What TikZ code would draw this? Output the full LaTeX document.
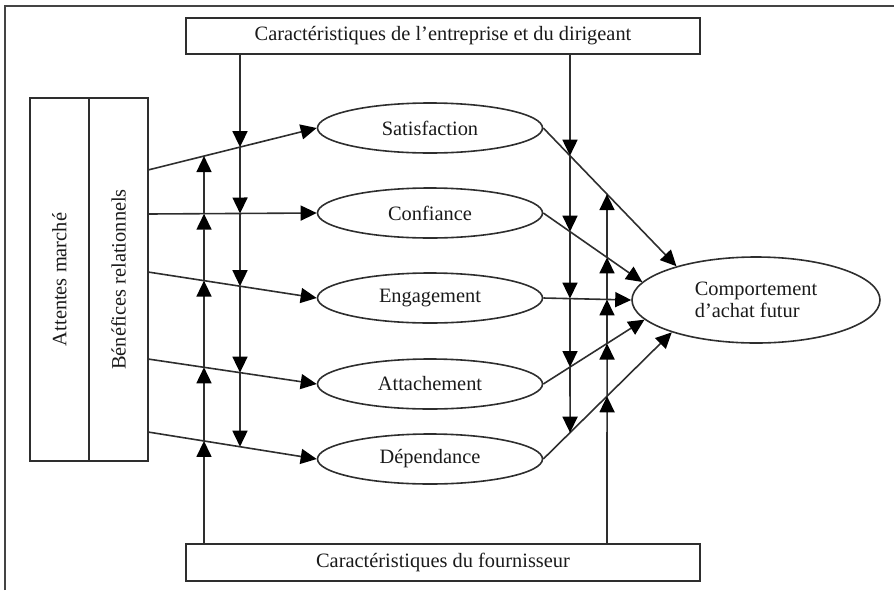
\documentclass[tikz,border=0pt]{standalone}
\usepackage{fontspec}
\setmainfont{Liberation Serif}
\usepackage{xcolor}
\definecolor{cLine}{HTML}{2E2E2E}
\definecolor{cText}{HTML}{1A1A1A}
\definecolor{cFrame}{HTML}{444444}
\usetikzlibrary{positioning,arrows.meta,shapes.geometric,calc}
\tikzset{
  node-box/.style={draw=cLine,line width=0.8pt,rectangle,inner sep=0pt,
    align=center,text=cText},
  node-ellipse/.style={draw=cLine,line width=0.8pt,ellipse,inner sep=0pt,
    minimum width=112.5pt,minimum height=25pt,align=center,text=cText},
  arrow/.style={-{Triangle[length=8pt,width=7.5pt,black]},line width=0.8pt,draw=cLine},
}

\begin{document}
\begin{tikzpicture}[x=0.5pt,y=-0.5pt,font=\fontsize{10.2}{11}\selectfont]
  \useasboundingbox (0,0) rectangle (894,590);
  % cadre
  \draw[cFrame,line width=0.6pt] (5,590) -- (5,6) -- (894,6);

  % boites
  \node[node-box,minimum width=257pt,minimum height=18pt]   (haut) at (443,36)
    {Caractéristiques de l’entreprise et du dirigeant};
  \node[node-box,minimum width=257pt,minimum height=18.5pt] (bas) at (443,562.5)
    {Caractéristiques du fournisseur};
  \node[node-box,rotate=90,minimum width=181.5pt,minimum height=29.5pt] (attentes)  at (59.5,279.5) {Attentes marché};
  \node[node-box,rotate=90,minimum width=181.5pt,minimum height=29.5pt] (benefices) at (118.5,279.5) {Bénéfices relationnels};

  % variables relationnelles
  \node[node-ellipse] (sat)  at (430,128) {Satisfaction};
  \node[node-ellipse] (conf) at (430,213) {Confiance};
  \node[node-ellipse] (eng)  at (430,298) {Engagement};
  \node[node-ellipse] (att)  at (430,384) {Attachement};
  \node[node-ellipse] (dep)  at (430,459) {Dépendance};
  \node[node-ellipse,minimum width=124pt,minimum height=43pt,align=left] (comp) at (756,300)
    {Comportement\\d’achat futur};

  % departs des fleches
  \coordinate (in1) at (148,170);
  \coordinate (in2) at (148,214);
  \coordinate (in3) at (148,272);
  \coordinate (in4) at (148,359);
  \coordinate (in5) at (148,432);

  \draw[arrow] (in1) -- (sat.west);
  \draw[arrow] (in2) -- (conf.west);
  \draw[arrow] (in3) -- (eng.west);
  \draw[arrow] (in4) -- (att.west);
  \draw[arrow] (in5) -- (dep.west);

  \draw[arrow] (sat.east)  -- (comp.157);
  \draw[arrow] (conf.east) -- (comp.171);
  \draw[arrow] (eng.east)  -- (comp.west);
  \draw[arrow] (att.east)  -- (comp.190);
  \draw[arrow] (dep.east)  -- (comp.201);

  % moderateurs
  \coordinate (vAa) at (240,0);   \coordinate (vAb) at (240,600);
  \coordinate (vBa) at (204,0);   \coordinate (vBb) at (204,600);
  \coordinate (vCa) at (570,0);   \coordinate (vCb) at (570,600);
  \coordinate (vDa) at (607,0);   \coordinate (vDb) at (607,600);

  \coordinate (a1) at (intersection of in1--sat.west and vAa--vAb);
  \coordinate (a2) at (intersection of in2--conf.west and vAa--vAb);
  \coordinate (a3) at (intersection of in3--eng.west and vAa--vAb);
  \coordinate (a4) at (intersection of in4--att.west and vAa--vAb);
  \coordinate (a5) at (intersection of in5--dep.west and vAa--vAb);
  \coordinate (b1) at (intersection of in1--sat.west and vBa--vBb);
  \coordinate (b2) at (intersection of in2--conf.west and vBa--vBb);
  \coordinate (b3) at (intersection of in3--eng.west and vBa--vBb);
  \coordinate (b4) at (intersection of in4--att.west and vBa--vBb);
  \coordinate (b5) at (intersection of in5--dep.west and vBa--vBb);
  \coordinate (c1) at (intersection of sat.east--comp.157 and vCa--vCb);
  \coordinate (c2) at (intersection of conf.east--comp.171 and vCa--vCb);
  \coordinate (c3) at (intersection of eng.east--comp.west and vCa--vCb);
  \coordinate (c4) at (intersection of att.east--comp.190 and vCa--vCb);
  \coordinate (c5) at (intersection of dep.east--comp.201 and vCa--vCb);
  \coordinate (d1) at (intersection of sat.east--comp.157 and vDa--vDb);
  \coordinate (d2) at (intersection of conf.east--comp.171 and vDa--vDb);
  \coordinate (d3) at (intersection of eng.east--comp.west and vDa--vDb);
  \coordinate (d4) at (intersection of att.east--comp.190 and vDa--vDb);
  \coordinate (d5) at (intersection of dep.east--comp.201 and vDa--vDb);

  \path (haut.south -| vAa) edge[arrow] (a1)
        (a1) edge[arrow] (a2)  (a2) edge[arrow] (a3)
        (a3) edge[arrow] (a4)  (a4) edge[arrow] (a5);
  \path (bas.north -| vBa) edge[arrow] (b5)
        (b5) edge[arrow] (b4)  (b4) edge[arrow] (b3)
        (b3) edge[arrow] (b2)  (b2) edge[arrow] (b1);
  \path (haut.south -| vCa) edge[arrow] (c1)
        (c1) edge[arrow] (c2)  (c2) edge[arrow] (c3)
        (c3) edge[arrow] (c4)  (c4) edge[arrow] (c5);
  \path (bas.north -| vDa) edge[arrow] (d5)
        (d5) edge[arrow] (d4)  (d4) edge[arrow] (d3)
        (d3) edge[arrow] (d2)  (d2) edge[arrow] (d1);
\end{tikzpicture}
\end{document}
